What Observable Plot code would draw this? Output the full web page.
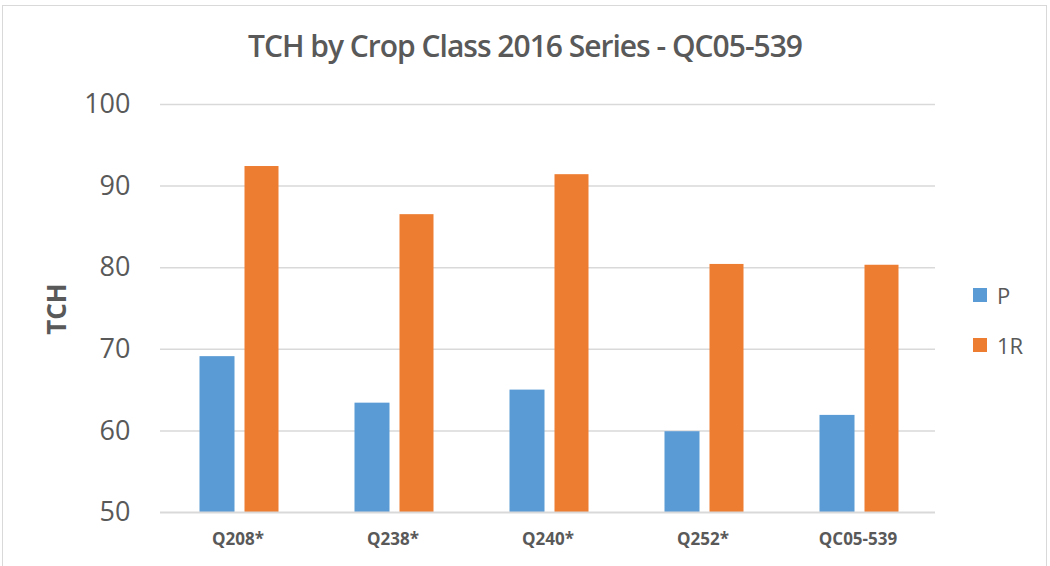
<!DOCTYPE html>
<html>
<head>
<meta charset="utf-8">
<script src="https://cdn.jsdelivr.net/npm/d3@7"></script>
<script src="https://cdn.jsdelivr.net/npm/@observablehq/plot@0.6"></script>
<style>
  html, body { margin: 0; padding: 0; background: #fff; }
  #wrap { position: relative; width: 1050px; height: 566px; overflow: hidden; font-family: "Open Sans", sans-serif; color: #595959; }
  #frame { position: absolute; left: 2px; top: 5px; width: 1045px; height: 600px; border: 1.5px solid #d9d9d9; box-sizing: border-box; }
  #title { position: absolute; left: 0; width: 1050px; top: 25px; text-align: center; font-size: 30px; font-weight: 600; letter-spacing: -1px; }
  #ylabel { position: absolute; left: 56px; top: 309px; transform: translate(-50%, -50%) rotate(-90deg); font-size: 26px; font-weight: 700; }
  #legend { position: absolute; left: 973px; top: 280px; font-size: 22px; }
  .item { display: flex; align-items: center; height: 30px; margin-bottom: 20px; }
  .sw { width: 14px; height: 14px; margin-right: 10px; }
  #chart { position: absolute; left: 0; top: 0; }
</style>
</head>
<body>
<div id="wrap">
  <div id="frame"></div>
  <div id="chart"></div>
  <div id="title"></div>
  <div id="ylabel"></div>
  <div id="legend"></div>
</div>
<script>
const titleText = "TCH by Crop Class 2016 Series - QC05-539";
const yLabel = "TCH";
const categories = ["Q208*", "Q238*", "Q240*", "Q252*", "QC05-539"];
const seriesNames = ["P", "1R"];
const seriesColors = ["#5b9bd5", "#ed7d31"];
const valuesP = [69.1, 63.4, 65.0, 59.9, 61.9];
const values1R = [92.4, 86.5, 91.4, 80.4, 80.3];
const yTicks = [50, 60, 70, 80, 90, 100];

const dataP = categories.map((c, i) => ({cat: c, series: "P", value: valuesP[i]}));
const data1R = categories.map((c, i) => ({cat: c, series: "1R", value: values1R[i]}));
const yMin = d3.min(yTicks), yMax = d3.max(yTicks);

const chart = Plot.plot({
  width: 1050,
  height: 566,
  marginLeft: 160,
  marginRight: 115,
  marginTop: 104,
  marginBottom: 54,
  style: {fontFamily: "Open Sans, sans-serif", color: "#595959", background: "transparent", overflow: "visible"},
  x: {domain: categories, padding: 0, label: null},
  y: {domain: [yMin, yMax], label: null},
  marks: [
    Plot.ruleY(yTicks.filter(t => t !== yMin), {stroke: "#d9d9d9", strokeWidth: 1.5}),
    Plot.barY(dataP, {x: "cat", y1: yMin, y2: "value", fill: seriesColors[0], insetLeft: 39.5, insetRight: 80.5}),
    Plot.barY(data1R, {x: "cat", y1: yMin, y2: "value", fill: seriesColors[1], insetLeft: 84.5, insetRight: 36.5}),
    Plot.ruleY([yMin], {stroke: "#d9d9d9", strokeWidth: 2}),
    Plot.axisY({ticks: yTicks, tickSize: 0, tickPadding: 30, fontSize: 27, label: null, tickFormat: d => String(d)}),
    Plot.axisX({tickSize: 0, tickPadding: 20, fontSize: 17, fontWeight: 700, label: null})
  ]
});
document.getElementById("chart").appendChild(chart);
document.getElementById("title").textContent = titleText;
document.getElementById("ylabel").textContent = yLabel;
const legend = document.getElementById("legend");
seriesNames.forEach((s, i) => {
  const it = document.createElement("div");
  it.className = "item";
  const sw = document.createElement("div");
  sw.className = "sw";
  sw.style.background = seriesColors[i];
  const t = document.createElement("span");
  t.textContent = s;
  it.appendChild(sw); it.appendChild(t);
  legend.appendChild(it);
});
</script>
</body>
</html>
